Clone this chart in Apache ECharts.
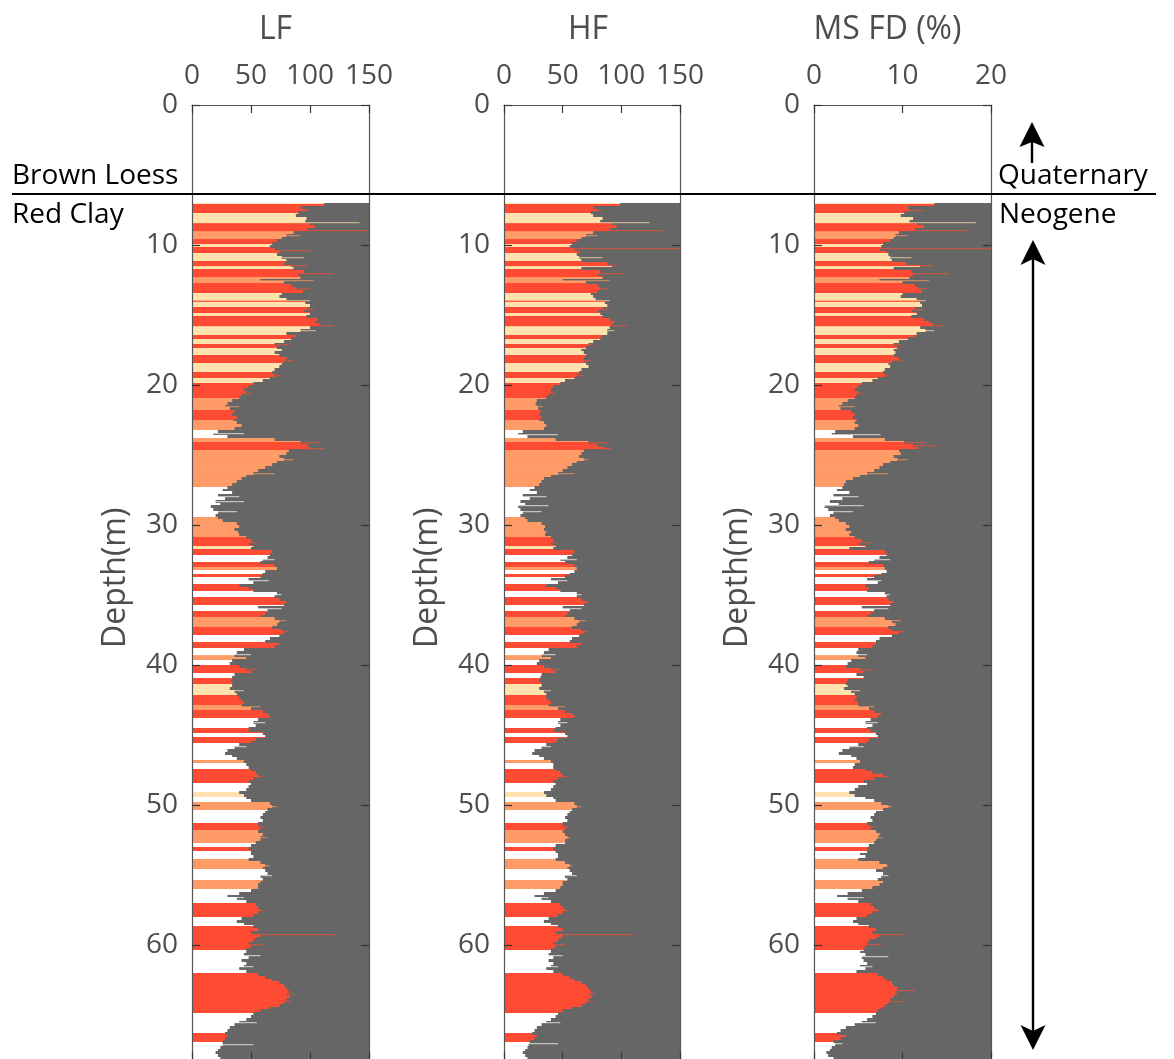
<!DOCTYPE html>
<html>
<head>
<meta charset="utf-8">
<title>Magnetic susceptibility profiles</title>
<script src="https://cdn.jsdelivr.net/npm/echarts@6/dist/echarts.min.js"></script>
<style>
  html, body { margin: 0; padding: 0; background: #ffffff; }
  #chart { width: 1174px; height: 1059px; }
</style>
</head>
<body>
<div id="chart"></div>
<script>
// ---------------------------------------------------------------
// Core samples: one value per 0.2 m interval, starting at 7.0 m
// ---------------------------------------------------------------
const sampleTop = 7.0;
const sampleStep = 0.2;

// Low-frequency susceptibility (rows of 2 m)
const lfValues = [
  112, 92, 96, 90, 88, 97, 96, 100, 104, 98,
  86, 80, 76, 72, 68, 66, 70, 74, 72, 76,
  80, 78, 84, 86, 95, 90, 92, 58, 78, 84,
  88, 94, 76, 74, 80, 96, 100, 98, 95, 100,
  97, 106, 104, 108, 100, 92, 80, 88, 84, 78,
  70, 72, 76, 70, 74, 80, 78, 76, 74, 70,
  68, 70, 66, 60, 52, 48, 44, 46, 42, 40,
  34, 30, 28, 32, 36, 34, 38, 35, 38, 42,
  36, 22, 18, 30, 70, 92, 98, 100, 82, 80,
  74, 78, 72, 68, 62, 56, 52, 46, 42, 38,
  34, 30, 26, 34, 22, 28, 20, 24, 16, 18,
  22, 20, 22, 26, 38, 40, 36, 39, 40, 46,
  50, 48, 52, 50, 68, 66, 64, 60, 58, 70,
  72, 62, 60, 58, 48, 52, 40, 48, 52, 72,
  70, 74, 80, 78, 56, 64, 62, 58, 70, 74,
  72, 68, 76, 78, 74, 66, 62, 74, 70, 44,
  38, 36, 46, 34, 32, 40, 46, 50, 36, 34,
  33, 34, 34, 32, 36, 38, 40, 42, 44, 42,
  50, 60, 64, 66, 56, 52, 54, 48, 48, 60,
  62, 54, 50, 40, 36, 30, 28, 34, 38, 44,
  46, 48, 50, 54, 56, 52, 48, 50, 48, 46,
  40, 44, 46, 50, 66, 68, 64, 62, 60, 58,
  60, 56, 56, 58, 56, 60, 58, 58, 54, 50,
  48, 50, 50, 52, 48, 58, 62, 60, 62, 64,
  58, 60, 58, 56, 56, 50, 40, 30, 38, 46,
  54, 56, 58, 56, 52, 42, 38, 44, 52, 56,
  50, 58, 54, 52, 48, 50, 46, 46, 44, 48,
  42, 46, 44, 40, 46, 56, 62, 68, 74, 78,
  80, 82, 80, 83, 80, 78, 74, 66, 58, 52,
  50, 46, 40, 36, 32, 30, 28, 30, 28, 26,
  26, 24, 22, 20, 22, 24, 20, 22, 20, 18
];

// High-frequency susceptibility
const hfValues = [
  99, 76, 80, 74, 76, 84, 82, 92, 96, 90,
  76, 70, 66, 62, 58, 56, 60, 64, 62, 64,
  66, 88, 92, 66, 82, 80, 84, 50, 70, 80,
  82, 80, 74, 76, 78, 86, 88, 84, 80, 82,
  84, 90, 94, 92, 90, 88, 88, 84, 82, 76,
  72, 70, 66, 68, 70, 68, 68, 70, 72, 66,
  64, 62, 60, 52, 48, 42, 40, 40, 38, 36,
  28, 27, 28, 29, 31, 30, 32, 30, 34, 36,
  34, 16, 12, 20, 44, 72, 80, 86, 68, 66,
  64, 68, 62, 58, 54, 50, 46, 40, 34, 32,
  30, 26, 22, 28, 16, 22, 14, 18, 12, 14,
  16, 14, 18, 20, 32, 35, 34, 36, 35, 40,
  42, 40, 44, 42, 60, 58, 54, 48, 52, 60,
  62, 60, 56, 52, 40, 46, 36, 44, 48, 62,
  62, 66, 71, 68, 50, 56, 54, 52, 60, 64,
  62, 58, 66, 68, 64, 58, 56, 66, 62, 38,
  34, 32, 40, 30, 28, 34, 40, 44, 32, 31,
  30, 32, 32, 30, 34, 36, 36, 38, 40, 38,
  46, 52, 58, 60, 48, 46, 48, 44, 42, 52,
  54, 46, 44, 36, 32, 26, 24, 30, 34, 40,
  42, 42, 44, 48, 50, 46, 42, 44, 42, 40,
  34, 36, 42, 44, 60, 62, 58, 56, 54, 52,
  54, 50, 50, 52, 50, 52, 54, 52, 52, 44,
  42, 44, 46, 46, 44, 52, 56, 54, 56, 58,
  52, 54, 50, 50, 48, 44, 34, 26, 32, 40,
  48, 50, 52, 50, 46, 38, 34, 40, 46, 50,
  44, 50, 48, 46, 42, 44, 40, 40, 38, 42,
  38, 42, 40, 36, 42, 50, 56, 60, 66, 70,
  72, 74, 72, 75, 72, 70, 66, 58, 50, 46,
  44, 40, 36, 32, 28, 26, 24, 28, 26, 22,
  21, 20, 18, 16, 18, 20, 16, 18, 16, 15
];

// Frequency-dependent susceptibility (%)
const fdValues = [
  13.6, 10.6, 10.8, 10.2, 9.8, 11.2, 10.8, 11.6, 12.4, 11.4,
  9.6, 9.2, 9.0, 8.6, 7.8, 7.6, 7.4, 8.2, 8.4, 8.6,
  8.8, 10.4, 12.0, 9.0, 11.0, 11.2, 10.8, 7.4, 10.0, 11.4,
  11.8, 12.2, 10.0, 9.8, 11.6, 12.0, 12.2, 11.4, 11.0, 11.6,
  11.0, 12.4, 13.0, 13.4, 12.0, 12.6, 11.6, 11.4, 10.6, 9.6,
  9.0, 9.4, 9.0, 9.2, 9.0, 9.6, 8.8, 8.4, 8.6, 8.0,
  7.8, 8.0, 7.2, 6.6, 5.4, 5.0, 4.6, 5.0, 4.8, 4.6,
  3.8, 3.2, 2.8, 3.0, 4.2, 4.6, 4.4, 4.8, 4.6, 5.0,
  4.6, 2.4, 2.0, 4.4, 8.0, 10.2, 11.2, 11.8, 9.6, 9.8,
  9.0, 9.4, 8.6, 7.8, 7.4, 6.8, 6.0, 5.2, 4.4, 3.6,
  3.4, 3.2, 2.6, 4.0, 2.2, 3.2, 1.8, 2.8, 1.2, 1.6,
  2.2, 1.8, 2.4, 2.8, 3.6, 4.0, 3.6, 4.2, 4.0, 4.6,
  5.4, 5.0, 5.8, 4.0, 8.0, 8.2, 7.4, 6.8, 6.2, 7.8,
  8.0, 8.2, 7.6, 6.8, 6.0, 7.2, 5.8, 6.2, 6.0, 8.0,
  8.2, 8.4, 9.0, 8.6, 5.4, 6.8, 6.4, 6.0, 8.0, 8.8,
  9.2, 8.4, 8.8, 9.6, 8.8, 7.4, 7.0, 7.0, 6.6, 5.0,
  4.8, 5.0, 5.8, 4.2, 3.8, 3.6, 5.2, 5.6, 4.8, 5.6,
  3.8, 3.6, 3.8, 3.4, 4.2, 4.6, 4.8, 4.6, 5.0, 5.0,
  6.2, 6.8, 7.6, 7.2, 6.4, 5.8, 6.6, 6.0, 6.4, 7.0,
  7.2, 6.2, 6.0, 5.0, 4.0, 3.2, 2.8, 4.2, 4.8, 5.2,
  4.6, 4.4, 5.8, 6.6, 7.8, 6.8, 5.6, 6.0, 5.0, 4.6,
  4.0, 4.6, 5.8, 6.8, 7.6, 8.4, 7.8, 7.0, 6.8, 6.4,
  6.6, 6.0, 6.2, 6.4, 7.0, 7.4, 7.2, 7.0, 6.8, 6.2,
  6.0, 6.0, 5.2, 5.8, 5.0, 7.4, 8.2, 7.8, 7.0, 7.8,
  7.6, 7.2, 7.8, 7.4, 6.6, 5.4, 3.8, 2.6, 3.8, 5.0,
  6.4, 6.8, 7.2, 6.6, 6.0, 4.8, 4.4, 5.0, 6.2, 7.0,
  6.6, 7.4, 7.0, 6.2, 6.0, 5.8, 5.6, 5.2, 5.8, 5.4,
  5.6, 6.0, 5.2, 5.8, 4.8, 7.2, 7.8, 8.2, 8.8, 9.0,
  9.4, 9.2, 9.4, 9.0, 8.6, 8.4, 8.0, 7.6, 7.2, 7.0,
  6.6, 6.0, 5.4, 4.6, 3.6, 3.0, 2.6, 3.6, 3.0, 2.2,
  2.4, 2.0, 1.8, 1.4, 1.6, 2.2, 1.4, 1.6, 1.2, 1.0
];

// Isolated thin excursions beyond the main profile: [depth (m), value]
const lfSpikes = [
  [7.5, 100], [8.33, 142], [8.93, 149], [9.3, 92], [10.36, 100], [10.83, 95], [11.4, 98],
  [12.02, 120], [12.5, 103], [13.1, 100], [13.9, 100], [14.6, 104], [15.7, 120], [16.1, 105],
  [17.1, 83], [18.2, 86], [19.3, 76], [20.6, 50], [21.5, 40], [23.45, 44], [24.1, 108],
  [24.5, 112], [25.3, 86], [26.3, 70], [27.9, 40], [28.3, 44], [29.0, 38], [31.2, 56],
  [32.4, 70], [33.9, 65], [34.9, 76], [35.9, 76], [36.8, 80], [37.6, 82], [39.2, 50],
  [40.3, 56], [41.8, 44], [42.9, 58], [44.1, 62], [45.8, 46], [47.9, 60], [50.1, 72],
  [51.5, 62], [52.3, 64], [54.3, 66], [55.0, 68], [56.6, 44], [57.5, 60], [59.24, 121],
  [59.9, 60], [60.7, 58], [61.5, 52], [63.4, 86], [64.0, 84], [65.5, 55], [67.07, 52]
];
const hfSpikes = [
  [7.5, 84], [8.33, 124], [8.9, 135], [9.3, 80], [10.24, 150], [10.83, 84], [11.4, 96],
  [12.02, 103], [12.5, 90], [13.1, 88], [13.9, 90], [14.6, 90], [15.7, 105], [16.1, 94],
  [17.1, 76], [18.2, 74], [19.3, 68], [20.6, 44], [21.5, 33], [23.5, 46], [24.1, 90],
  [24.5, 92], [25.3, 72], [26.3, 60], [27.9, 36], [28.6, 38], [29.0, 32], [31.2, 46],
  [32.4, 62], [33.9, 54], [34.9, 66], [35.9, 66], [36.8, 70], [37.6, 72], [39.2, 44],
  [40.3, 48], [41.8, 40], [42.9, 52], [44.1, 54], [45.8, 40], [47.9, 54], [50.1, 66],
  [51.5, 56], [52.3, 56], [54.3, 58], [55.0, 62], [56.6, 38], [57.5, 54], [59.2, 111],
  [59.9, 52], [60.7, 50], [61.5, 46], [63.4, 78], [64.0, 76], [65.5, 48], [67.0, 46]
];
const fdSpikes = [
  [7.5, 12.4], [8.33, 18.3], [8.9, 17.6], [9.3, 10.6], [10.24, 20], [10.83, 11.0], [11.4, 13.5],
  [12.02, 15.3], [12.5, 13.0], [13.1, 12.8], [13.9, 12.6], [14.6, 12.4], [15.7, 14.6], [16.1, 13.6],
  [17.1, 10.0], [18.2, 10.0], [19.3, 8.6], [20.6, 5.6], [21.5, 4.6], [23.5, 7.5], [24.1, 12.6],
  [24.3, 14.0], [25.3, 10.6], [26.3, 8.4], [27.9, 5.0], [28.6, 5.6], [29.0, 4.4], [31.2, 6.4],
  [32.4, 8.6], [33.9, 7.6], [34.9, 8.6], [35.9, 8.4], [36.8, 9.8], [37.6, 10.2], [39.2, 6.0],
  [40.3, 6.8], [41.8, 5.2], [42.9, 6.8], [44.1, 7.2], [45.8, 5.6], [47.9, 8.4], [50.1, 8.8],
  [51.5, 7.0], [52.3, 7.8], [54.3, 8.4], [55.0, 8.4], [56.6, 5.6], [57.5, 7.4], [59.2, 10.3],
  [59.9, 7.6], [60.8, 8.4], [61.5, 6.6], [63.2, 11.4], [64.0, 10.0], [65.5, 7.0], [67.0, 3.2]
];

// Lithological units: [top depth (m), kind]
// R = red palaeosol, O = weak palaeosol, Y = loess-like, W = pale clay
const units = [
  [7.00, 'Y'], [7.07, 'R'], [7.74, 'Y'], [8.40, 'R'], [8.98, 'O'], [9.60, 'R'],
  [9.95, 'Y'], [10.16, 'R'], [10.60, 'Y'], [11.12, 'R'], [11.50, 'Y'], [11.74, 'R'],
  [12.31, 'O'], [12.74, 'R'], [13.45, 'Y'], [13.95, 'R'], [14.05, 'Y'], [14.40, 'R'],
  [14.83, 'Y'], [15.07, 'R'], [15.79, 'Y'], [16.43, 'R'], [16.74, 'Y'], [17.07, 'R'],
  [17.38, 'Y'], [17.86, 'R'], [18.45, 'Y'], [19.05, 'R'], [19.52, 'Y'], [19.83, 'R'],
  [20.95, 'O'], [21.79, 'R'], [22.50, 'O'], [23.21, 'W'], [23.80, 'O'], [24.05, 'R'],
  [24.64, 'O'], [27.26, 'W'], [29.40, 'O'], [30.83, 'R'], [31.48, 'Y'], [31.70, 'R'],
  [32.14, 'W'], [32.62, 'R'], [32.98, 'O'], [33.21, 'W'], [33.50, 'R'], [33.74, 'W'],
  [34.20, 'R'], [34.69, 'W'], [35.17, 'R'], [35.71, 'W'], [36.12, 'R'], [36.55, 'O'],
  [37.26, 'R'], [37.86, 'W'], [38.33, 'R'], [38.81, 'W'], [39.29, 'O'], [39.64, 'W'],
  [40.00, 'R'], [40.60, 'W'], [40.95, 'R'], [41.36, 'Y'], [42.14, 'R'], [42.86, 'O'],
  [43.21, 'R'], [43.80, 'W'], [44.50, 'R'], [44.88, 'W'], [45.17, 'R'], [45.55, 'W'],
  [46.79, 'O'], [46.98, 'W'], [47.45, 'R'], [48.45, 'W'], [49.05, 'Y'], [49.40, 'W'],
  [49.76, 'O'], [50.36, 'W'], [51.31, 'R'], [51.79, 'O'], [52.69, 'W'], [52.98, 'R'],
  [53.26, 'W'], [53.88, 'O'], [54.60, 'W'], [55.36, 'O'], [56.02, 'W'], [57.02, 'R'],
  [57.98, 'W'], [58.64, 'R'], [60.36, 'W'], [62.00, 'R'], [64.83, 'W'], [66.31, 'R'],
  [66.90, 'W']
];
const sectionBottom = 69.0;

// Boundary between Quaternary brown loess and Neogene red clay (m)
const boundaryDepth = 6.35;

// Depth axis
const depthMax = 68.25;
const depthInterval = 10;

// ---------------------------------------------------------------
const unitColors = { R: '#ff4b33', O: '#ff9b66', Y: '#ffe2ad', W: '#ffffff' };
const kindOrder = ['R', 'O', 'Y', 'W'];
const profileGray = '#666666';
const textGray = '#4d4d4d';
const frameColor = '#555555';
const fontFamily = '"Open Sans", "Noto Sans", sans-serif';

function unitKindAt(depth) {
  let kind = null;
  for (const u of units) {
    if (u[0] <= depth) kind = u[1]; else break;
  }
  return kind;
}

const unitData = units.map((u, i) => [
  kindOrder.indexOf(u[1]),
  u[0],
  i + 1 < units.length ? units[i + 1][0] : sectionBottom
]);

function sampleData(values) {
  return values.map((v, i) => [v, +(sampleTop + i * sampleStep).toFixed(2)]);
}

const panels = [
  { title: 'LF', values: lfValues, spikes: lfSpikes, max: 150, interval: 50,
    left: 192, width: 177, titlePad: [0, 10, 0, 0] },
  { title: 'HF', values: hfValues, spikes: hfSpikes, max: 150, interval: 50,
    left: 504, width: 176, titlePad: [0, 8, 0, 0] },
  { title: 'MS FD (%)', values: fdValues, spikes: fdSpikes, max: 20, interval: 10,
    left: 814, width: 177, titlePad: [0, 30, 0, 0] }
];

const gridTop = 105;
const gridHeight = depthMax * 14;

const grids = [], xAxes = [], yAxes = [], series = [];

panels.forEach((p, i) => {
  grids.push({ left: p.left, top: gridTop, width: p.width, height: gridHeight,
    containLabel: false, outerBoundsMode: 'none', show: false });

  const tickStyle = { show: true, inside: true, length: 8, lineStyle: { color: '#333333', width: 1.2 } };
  const lineStyle = { show: true, onZero: false, lineStyle: { color: frameColor, width: 1.2 } };

  xAxes.push({
    gridIndex: i, type: 'value', position: 'top', min: 0, max: p.max, interval: p.interval,
    axisLine: lineStyle, axisTick: tickStyle, splitLine: { show: false },
    axisLabel: { show: true, margin: 15, fontSize: 28, color: textGray, fontFamily: fontFamily },
    name: p.title, nameLocation: 'middle', nameGap: 59,
    nameTextStyle: { fontSize: 32, color: textGray, fontFamily: fontFamily, padding: p.titlePad },
    z: 10
  });
  xAxes.push({
    gridIndex: i, type: 'value', position: 'bottom', min: 0, max: p.max, interval: p.interval,
    axisLine: lineStyle, axisTick: tickStyle, splitLine: { show: false },
    axisLabel: { show: false }, z: 10
  });

  yAxes.push({
    gridIndex: i, type: 'value', position: 'left', inverse: true,
    min: 0, max: depthMax, interval: depthInterval,
    axisLine: lineStyle, axisTick: tickStyle, splitLine: { show: false },
    axisLabel: { show: true, margin: 14, fontSize: 28, color: textGray, fontFamily: fontFamily,
      formatter: v => (Math.abs(v % depthInterval) < 1e-6 ? String(v) : '') },
    name: 'Depth(m)', nameLocation: 'middle', nameGap: 60,
    nameTextStyle: { fontSize: 32, color: textGray, fontFamily: fontFamily, padding: [0, 0, 0, 10] },
    z: 10
  });
  yAxes.push({
    gridIndex: i, type: 'value', position: 'right', inverse: true,
    min: 0, max: depthMax, interval: depthInterval,
    axisLine: lineStyle, axisTick: tickStyle, splitLine: { show: false },
    axisLabel: { show: false }, z: 10
  });

  const xIdx = i * 2, yIdx = i * 2;

  // coloured lithology bands across the full width of the panel
  series.push({
    type: 'custom', coordinateSystem: 'cartesian2d', xAxisIndex: xIdx, yAxisIndex: yIdx,
    data: unitData, encode: { x: 0, y: [1, 2] }, clip: true, silent: true, z: 2,
    renderItem: (params, api) => {
      const kind = kindOrder[api.value(0)];
      const a = api.coord([0, api.value(1)]);
      const b = api.coord([p.max, api.value(2)]);
      const y0 = Math.round(a[1]), y1 = Math.round(b[1]);
      if (y1 <= y0) return null;
      return { type: 'rect', shape: { x: a[0], y: y0, width: b[0] - a[0], height: y1 - y0 },
        style: { fill: unitColors[kind] } };
    }
  });

  // grey fill to the right of each measured value
  series.push({
    type: 'custom', coordinateSystem: 'cartesian2d', xAxisIndex: xIdx, yAxisIndex: yIdx,
    data: sampleData(p.values), encode: { x: 0, y: 1 }, clip: true, silent: true, z: 3,
    renderItem: (params, api) => {
      const v = api.value(0), d = api.value(1);
      const a = api.coord([v, d]);
      const b = api.coord([p.max, d + sampleStep]);
      const y0 = Math.round(a[1]), y1 = Math.round(b[1]);
      if (y1 <= y0) return null;
      return { type: 'rect', shape: { x: a[0], y: y0, width: b[0] - a[0], height: y1 - y0 },
        style: { fill: profileGray } };
    }
  });

  // thin single-sample excursions
  series.push({
    type: 'custom', coordinateSystem: 'cartesian2d', xAxisIndex: xIdx, yAxisIndex: yIdx,
    data: p.spikes.map(s => [s[1], s[0]]), encode: { x: 0, y: 1 }, clip: true, silent: true, z: 4,
    renderItem: (params, api) => {
      const v = api.value(0), d = api.value(1);
      const a = api.coord([0, d]);
      const b = api.coord([v, d]);
      const kind = unitKindAt(d) || 'W';
      return { type: 'rect', shape: { x: a[0], y: Math.round(a[1]), width: b[0] - a[0], height: 1.2 },
        style: { fill: unitColors[kind], opacity: 0.6 } };
    }
  });
});

const chart = echarts.init(document.getElementById('chart'), null, { renderer: 'canvas' });
chart.setOption({
  backgroundColor: '#ffffff',
  animation: false,
  grid: grids,
  xAxis: xAxes,
  yAxis: yAxes,
  series: series
});

// Stratigraphic annotations
const yBoundary = chart.convertToPixel({ yAxisIndex: 0 }, boundaryDepth);
const annoFont = { fontSize: 28, fontFamily: fontFamily, fill: '#000000' };
const arrowX1 = 1032, arrowX2 = 1033;

chart.setOption({
  graphic: [
    { type: 'line', z: 100, shape: { x1: 12, y1: yBoundary, x2: 1156, y2: yBoundary },
      style: { stroke: '#000000', lineWidth: 2 } },
    { type: 'text', z: 100, x: 12, y: yBoundary - 18,
      style: Object.assign({ text: 'Brown Loess', verticalAlign: 'middle', align: 'left' }, annoFont) },
    { type: 'text', z: 100, x: 12, y: yBoundary + 21,
      style: Object.assign({ text: 'Red Clay', verticalAlign: 'middle', align: 'left' }, annoFont) },
    { type: 'text', z: 100, x: 998, y: yBoundary - 18,
      style: Object.assign({ text: 'Quaternary', verticalAlign: 'middle', align: 'left' }, annoFont) },
    { type: 'text', z: 100, x: 999, y: yBoundary + 21,
      style: Object.assign({ text: 'Neogene', verticalAlign: 'middle', align: 'left' }, annoFont) },
    // upward arrow (Quaternary continues upward)
    { type: 'line', z: 100, shape: { x1: arrowX1, y1: 142, x2: arrowX1, y2: 163 },
      style: { stroke: '#000000', lineWidth: 2.4 } },
    { type: 'polygon', z: 100,
      shape: { points: [[arrowX1, 122], [arrowX1 + 12.5, 147], [arrowX1, 142], [arrowX1 - 12.5, 147]] },
      style: { fill: '#000000' } },
    // double arrow spanning the Neogene section
    { type: 'line', z: 100, shape: { x1: arrowX2, y1: 258, x2: arrowX2, y2: 1032 },
      style: { stroke: '#000000', lineWidth: 2.4 } },
    { type: 'polygon', z: 100,
      shape: { points: [[arrowX2, 240], [arrowX2 + 12.5, 265], [arrowX2, 259], [arrowX2 - 12.5, 265]] },
      style: { fill: '#000000' } },
    { type: 'polygon', z: 100,
      shape: { points: [[arrowX2, 1050], [arrowX2 + 12.5, 1025], [arrowX2, 1031], [arrowX2 - 12.5, 1025]] },
      style: { fill: '#000000' } }
  ]
});
</script>
</body>
</html>
